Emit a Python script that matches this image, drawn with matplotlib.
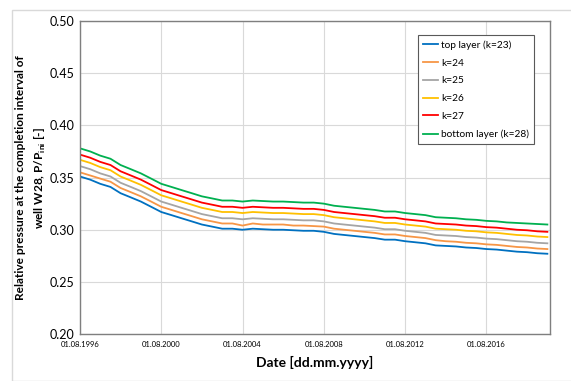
import pandas as pd
import matplotlib
matplotlib.use("Agg")
import matplotlib.pyplot as plt
import matplotlib.dates as mdates
from matplotlib.patches import Rectangle

# semi-annual sample dates
dates = pd.date_range("1996-08-01", periods=47, freq="6MS")

top_k23 = [0.351, 0.348, 0.344, 0.341, 0.335, 0.331, 0.327, 0.322, 0.317, 0.314,
           0.311, 0.308, 0.305, 0.303, 0.301, 0.301, 0.300, 0.301, 0.3005, 0.300,
           0.300, 0.2995, 0.299, 0.299, 0.298, 0.296, 0.295, 0.294, 0.293, 0.292,
           0.2905, 0.2905, 0.289, 0.288, 0.287, 0.285, 0.2845, 0.284, 0.283, 0.2825,
           0.2815, 0.281, 0.280, 0.279, 0.2785, 0.2775, 0.277]
k24 = [0.355, 0.352, 0.349, 0.346, 0.340, 0.336, 0.332, 0.327, 0.322, 0.319,
       0.316, 0.313, 0.310, 0.308, 0.306, 0.306, 0.304, 0.306, 0.305, 0.305,
       0.305, 0.304, 0.304, 0.3035, 0.303, 0.301, 0.300, 0.299, 0.298, 0.297,
       0.2955, 0.2955, 0.294, 0.293, 0.292, 0.290, 0.289, 0.2885, 0.2875, 0.287,
       0.286, 0.2855, 0.2845, 0.2835, 0.283, 0.282, 0.2815]
k25 = [0.361, 0.358, 0.354, 0.351, 0.345, 0.341, 0.337, 0.332, 0.327, 0.324,
       0.321, 0.318, 0.315, 0.313, 0.311, 0.311, 0.310, 0.311, 0.3105, 0.310,
       0.310, 0.3095, 0.309, 0.309, 0.308, 0.306, 0.305, 0.304, 0.303, 0.302,
       0.3005, 0.3005, 0.299, 0.298, 0.297, 0.295, 0.2945, 0.294, 0.293, 0.2925,
       0.2915, 0.291, 0.290, 0.289, 0.2885, 0.2875, 0.287]
k26 = [0.367, 0.364, 0.360, 0.357, 0.351, 0.347, 0.343, 0.338, 0.333, 0.330,
       0.327, 0.324, 0.321, 0.319, 0.317, 0.317, 0.316, 0.317, 0.3165, 0.316,
       0.316, 0.3155, 0.315, 0.315, 0.314, 0.312, 0.311, 0.310, 0.309, 0.308,
       0.3065, 0.3065, 0.305, 0.304, 0.303, 0.301, 0.3005, 0.300, 0.299, 0.2985,
       0.2975, 0.297, 0.296, 0.295, 0.2945, 0.2935, 0.293]
k27 = [0.372, 0.369, 0.365, 0.362, 0.356, 0.352, 0.348, 0.343, 0.338, 0.335,
       0.332, 0.329, 0.326, 0.324, 0.322, 0.322, 0.321, 0.322, 0.3215, 0.321,
       0.321, 0.3205, 0.320, 0.320, 0.319, 0.317, 0.316, 0.315, 0.314, 0.313,
       0.3115, 0.3115, 0.310, 0.309, 0.308, 0.306, 0.3055, 0.305, 0.304, 0.3035,
       0.3025, 0.302, 0.301, 0.300, 0.2995, 0.2985, 0.298]
bottom_k28 = [0.378, 0.375, 0.371, 0.368, 0.362, 0.358, 0.354, 0.349, 0.344, 0.341,
              0.338, 0.335, 0.332, 0.330, 0.328, 0.328, 0.327, 0.328, 0.3275, 0.327,
              0.327, 0.3265, 0.326, 0.326, 0.325, 0.323, 0.322, 0.321, 0.320, 0.319,
              0.3175, 0.3175, 0.316, 0.315, 0.314, 0.312, 0.3115, 0.311, 0.310, 0.3095,
              0.3085, 0.308, 0.307, 0.3065, 0.306, 0.3055, 0.305]

labels = ["top layer (k=23)", "k=24", "k=25", "k=26", "k=27", "bottom layer (k=28)"]
colors = ["#0070C0", "#F79646", "#A5A5A5", "#FFC000", "#FF0000", "#00B050"]
series = [top_k23, k24, k25, k26, k27, bottom_k28]

plt.rcParams["font.family"] = ["Lato", "DejaVu Sans"]
plt.rcParams["mathtext.fontset"] = "custom"
plt.rcParams["mathtext.bf"] = "Lato:bold"
plt.rcParams["mathtext.rm"] = "Lato"

fig = plt.figure(figsize=(5.71, 3.81), dpi=100)
fig.patches.append(Rectangle((12/571, 0), 1, 1 - 10/381, transform=fig.transFigure,
                             fill=False, edgecolor="#D9D9D9", linewidth=1))
ax = fig.add_axes([0.140, 0.123, 0.823, 0.822])

for vals, lab, col in zip(series, labels, colors):
    ax.plot(dates, vals, color=col, linewidth=1.3, label=lab)

ax.set_ylim(0.20, 0.50)
ax.set_yticks([0.20, 0.25, 0.30, 0.35, 0.40, 0.45, 0.50])
ax.yaxis.set_major_formatter(plt.FormatStrFormatter("%.2f"))
ax.set_xlim(pd.Timestamp("1996-08-01"), pd.Timestamp("2019-09-15"))
ax.set_xticks(pd.date_range("1996-08-01", "2016-08-01", freq="48MS"))
ax.xaxis.set_major_formatter(mdates.DateFormatter("%d.%m.%Y"))
ax.tick_params(axis="x", labelsize=5.5, length=0, pad=5)
ax.tick_params(axis="y", labelsize=9, length=0, pad=4)
ax.grid(True, color="#D9D9D9", linewidth=0.8)
for s in ax.spines.values():
    s.set_color("#7F7F7F")
    s.set_linewidth(1.0)

ax.set_xlabel("Date [dd.mm.yyyy]", fontsize=10, fontweight="bold", labelpad=6)
ax.set_ylabel("Relative pressure at the completion interval of\nwell W28, P/P$_{\\mathbf{ini}}$ [-]",
              fontsize=8.6, fontweight="bold", labelpad=1, linespacing=1.6)

leg = ax.legend(loc="upper right", bbox_to_anchor=(0.977, 0.97), fontsize=7.3,
                handlelength=1.5, handletextpad=0.25, borderpad=0.5, labelspacing=0.85,
                fancybox=False, framealpha=1)
leg.get_frame().set_edgecolor("#595959")
leg.get_frame().set_linewidth(0.8)

plt.savefig("out.png", dpi=100)
